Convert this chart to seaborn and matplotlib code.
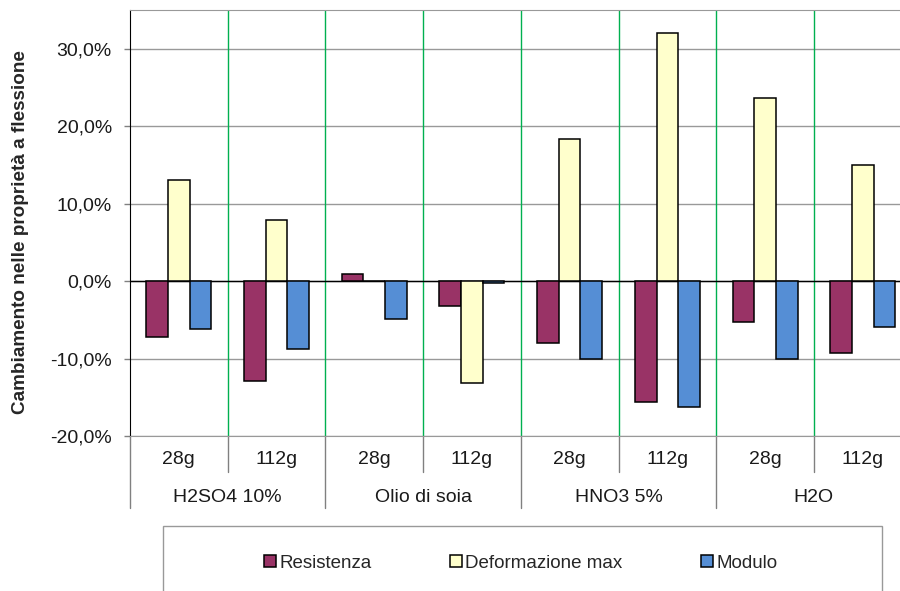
import pandas as pd
import matplotlib
matplotlib.use("Agg")
import matplotlib.pyplot as plt
from matplotlib.patches import Rectangle
import seaborn as sns

# dati (variazione %)
gruppi = ["H2SO4 10%", "Olio di soia", "HNO3 5%", "H2O"]
masse = ["28g", "112g"]
proprieta = ["Resistenza", "Deformazione max", "Modulo"]
resistenza = [-7.2, -12.9, 0.9, -3.2, -8.0, -15.6, -5.3, -9.25]
deformazione = [13.1, 7.9, 0.0, -13.1, 18.4, 32.1, 23.65, 15.0]
modulo = [-6.15, -8.8, -4.9, -0.2, -10.0, -16.3, -10.0, -5.9]
colori = ["#993366", "#FFFFCC", "#558ED5"]
yticks = [-20, -10, 0, 10, 20, 30]

#%% prepara dati in formato lungo
campioni = [g + " " + m for g in gruppi for m in masse]
righe = []
for nome, valori in zip(proprieta, [resistenza, deformazione, modulo]):
    for c, v in zip(campioni, valori):
        righe.append({"campione": c, "proprieta": nome, "valore": v})
df = pd.DataFrame(righe)

#%% grafico
sns.set_style("white")
plt.rcParams['font.family'] = ['Liberation Sans', 'DejaVu Sans']

fig = plt.figure(figsize=(9, 5.91), dpi=100)
W, H = 900, 591
ax = fig.add_axes([130 / W, 1 - 436 / H, (911.6 - 130) / W, (436 - 10.3) / H])

sns.barplot(data=df, x="campione", y="valore", hue="proprieta",
            palette=colori, width=0.666, gap=0, errorbar=None,
            edgecolor="black", linewidth=1.1, saturation=1, ax=ax, zorder=3)

ax.set_xlim(-0.5, 7.5)
ax.set_ylim(-20, 35)
ax.set_yticks(yticks)
ax.set_yticklabels([f"{t:.1f}%".replace(".", ",") for t in yticks])
ax.yaxis.grid(True, color="#999999", lw=1)
ax.set_axisbelow(True)
ax.axhline(0, color="black", lw=1, zorder=2.5)
for i in range(7):
    ax.axvline(i + 0.5, color="#00B050", lw=1, zorder=1)

ax.set_xticks([])
ax.set_xlabel("")
ax.set_ylabel("")
ax.tick_params(axis="y", length=4.1, width=1, color="#808080", pad=9,
               labelsize=14, labelcolor="#1a1a1a", left=True)
ax.spines["left"].set_color("black")
for s in ["top", "right", "bottom"]:
    ax.spines[s].set_color("#999999")

#%% tabella delle categorie sotto l'asse
trans = ax.get_xaxis_transform()
hpx = 436 - 10.3
for i in range(8):
    ax.text(i, -24 / hpx, masse[i % 2], transform=trans, ha="center",
            va="center", fontsize=14, color="#1a1a1a")
for j, g in enumerate(gruppi):
    ax.text(2 * j + 0.5, -61 / hpx, g, transform=trans, ha="center",
            va="center", fontsize=14, color="#1a1a1a")
for i in range(8):
    x = i - 0.5
    basso = -72 / hpx if i % 2 == 0 else -36 / hpx
    ax.plot([x, x], [0, basso], transform=trans, color="#808080", lw=1,
            clip_on=False)

fig.text(21 / W, 1 - 232 / H, "Cambiamento nelle proprietà a flessione",
         rotation=90, ha="center", va="center", fontsize=13.6,
         fontweight="bold")

#%% legenda
handles, labels = ax.get_legend_handles_labels()
if ax.get_legend() is not None:
    ax.get_legend().remove()
fig.add_artist(Rectangle((163 / W, 1 - 600 / H), (882 - 163) / W, (600 - 526) / H,
                         transform=fig.transFigure, fill=False,
                         edgecolor="#999999", lw=1))
fig.legend(handles, labels, loc="center", bbox_to_anchor=(521 / W, 1 - 563 / H),
           ncol=3, frameon=False, fontsize=13.5, handlelength=0.6,
           handleheight=0.6, handletextpad=0.2, columnspacing=4.2)

fig.savefig("out.png", dpi=100)
